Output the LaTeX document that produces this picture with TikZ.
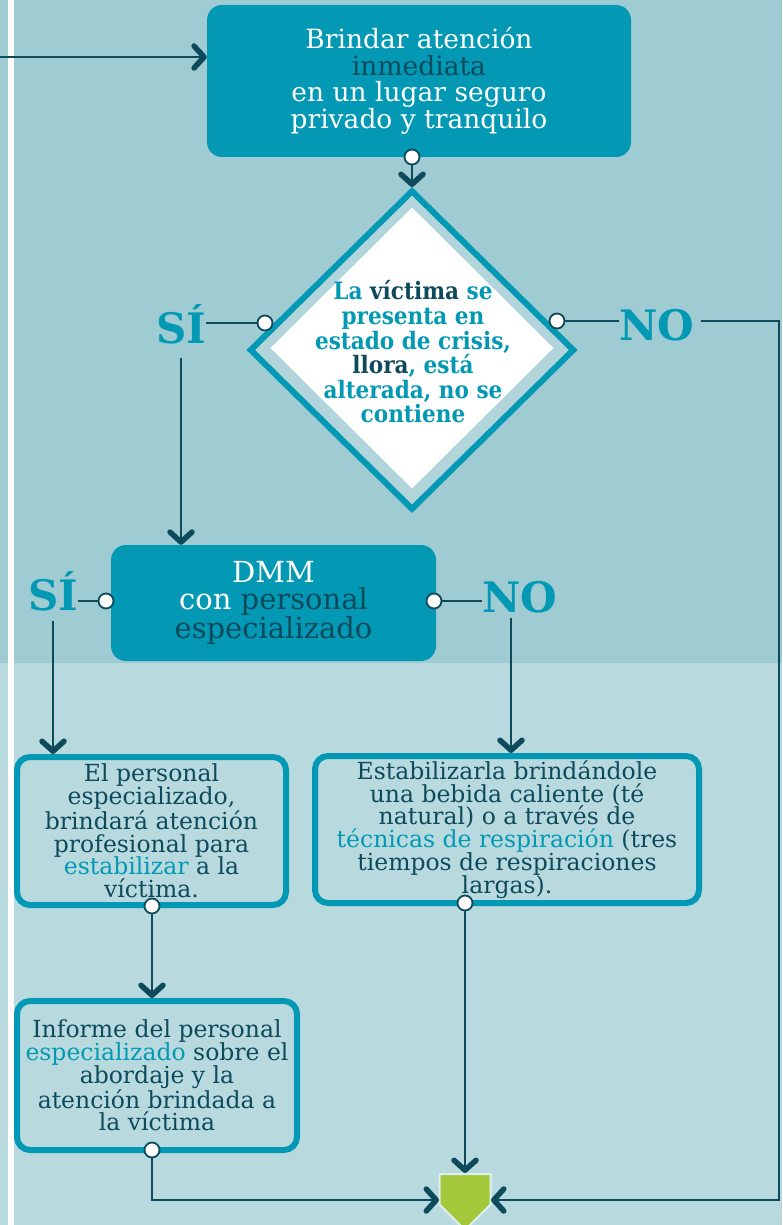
\documentclass[tikz,border=0pt]{standalone}
\usepackage{fontspec}
\setmainfont{DejaVu Serif}
\newfontfamily\condserif{DejaVu Serif Condensed}
\usetikzlibrary{arrows.meta,positioning,shapes.geometric,shapes.arrows}

\definecolor{bgtop}{HTML}{9FCBD3}
\definecolor{bgbot}{HTML}{B8DADF}
\definecolor{brandteal}{HTML}{0399B5}
\definecolor{ink}{HTML}{0D4A5C}
\definecolor{leaf}{HTML}{A3C93A}

\begin{document}
\begin{tikzpicture}[x=1pt,y=-1pt,
    % general settings
    align=center,
    % nodes
    base/.style={rectangle, rounded corners=15pt, inner sep=0pt},
    filled/.style={base, fill=brandteal, text=white, font=\fontsize{26.5}{26.5}\selectfont},
    outlined/.style={base, rounded corners=13pt, draw=brandteal, line width=6pt, fill=bgbot, text=ink, font=\fontsize{23.5}{22.8}\selectfont},
    joint/.style={circle, draw=ink, line width=1.8pt, fill=white, minimum size=15pt, inner sep=0pt},
    answer/.style={text=brandteal, inner sep=0pt, anchor=base, font=\fontsize{42}{42}\selectfont\bfseries},
    % arrows
    link/.style={ink, line width=1.8pt},
    flow/.style={link, -{Straight Barb[length=10pt, width=22pt, line width=5.5pt 0, round]}}
  ]

  % background bands
  \fill[bgtop] (0,0) rectangle (782,663);
  \fill[bgbot] (0,663) rectangle (782,1225);
  \fill[white] (8,0) rectangle (14,1225);
  \useasboundingbox (0,0) rectangle (782,1225);

  \node (brindar)   [filled, minimum width=424pt, minimum height=152pt] at (419,81)
                    {Brindar atención\\\textcolor{ink}{inmediata}\\en un lugar seguro\\privado y tranquilo};

  \node (crisis)    [diamond, draw=brandteal, line width=6pt, fill=bgtop!80!white,
                     minimum width=325pt, minimum height=320pt, inner sep=0pt] at (412,350) {};
  \node (crisisin)  [diamond, fill=white, minimum width=283pt, minimum height=281pt,
                     inner sep=0pt] at (412,348) {};
  \node (crisistxt) [text=brandteal, font=\condserif\bfseries\fontsize{24}{24.6}\selectfont] at (413,352)
                    {La \textcolor{ink}{víctima} se\\presenta en\\estado de crisis,\\\textcolor{ink}{llora}, está\\alterada, no se\\contiene};

  \node (j1)        [joint] at (412,157) {};
  \node (jl)        [joint] at (265,323) {};
  \node (jr)        [joint] at (557,321) {};
  \node (si1)       [answer] at (181,343) {SÍ};
  \node (no1)       [answer] at (657,340) {NO};

  \node (dmm)       [filled, minimum width=325pt, minimum height=116pt,
                     font=\fontsize{29}{27}\selectfont] at (273.5,603)
                    {DMM\\con \textcolor{ink}{personal}\\\textcolor{ink}{especializado}};

  \node (j2)        [joint] at (106,601) {};
  \node (j3)        [joint] at (434,601) {};
  \node (si2)       [answer] at (53,610) {SÍ};
  \node (no2)       [answer] at (520,612) {NO};

  \node (personal)  [outlined, minimum width=269pt, minimum height=148pt] at (151.5,831)
                    {El personal\\especializado,\\brindará atención\\profesional para\\
                     \textcolor{brandteal}{estabilizar} a la\\víctima.};

  \node (estab)     [outlined, minimum width=384pt, minimum height=147pt] at (507,829.5)
                    {Estabilizarla brindándole\\una bebida caliente (té\\natural) o a través de\\
                     \textcolor{brandteal}{técnicas de respiración} (tres\\tiempos de respiraciones\\largas).};

  \node (informe)   [outlined, minimum width=280pt, minimum height=149pt] at (157,1075.5)
                    {Informe del personal\\\textcolor{brandteal}{especializado} sobre el\\abordaje y la\\
                     atención brindada a\\la víctima};

  \node (j4)        [joint] at (152,906) {};
  \node (j5)        [joint] at (465,903) {};
  \node (j6)        [joint] at (152,1150) {};

  \node (fin)       [single arrow, single arrow head extend=0pt, shape border rotate=270,
                     fill=leaf, draw=white!55!bgbot, line width=2pt, minimum width=51pt,
                     minimum height=56pt, inner sep=0pt, anchor=tail] at (465,1173) {};

  \coordinate (entry) at (0,57);
  \coordinate (finL)  at (439,1200);
  \coordinate (finR)  at (491,1200);
  \coordinate (edge)  at (779,1200);

  \draw[flow] (entry) -- (entry -| brindar.west);
  \draw[flow] (j1) -- (crisis.north);

  \draw[link] (jl) -- (jl -| si1.east);
  \draw[link] (jr) -- (jr -| no1.west);
  \draw[flow] ([xshift=6pt]no1.east |- jr) -| (edge) -- (finR);
  \draw[flow] ([yshift=-14pt]si1.south) -- (si1.south |- dmm.north);

  \draw[link] (j2) -- (j2 -| si2.east);
  \draw[link] (j3) -- (j3 -| no2.west);
  \draw[flow] ([yshift=-10pt]si2.south) -- (si2.south |- personal.north);
  \draw[flow] ([xshift=-9pt,yshift=-5pt]no2.south) -- ([xshift=-9pt]no2.south |- estab.north);

  \draw[flow] (j4) -- (j4 |- informe.north);
  \draw[flow] (j5) -- (fin.tail);
  \draw[flow] (j6) |- (finL);
\end{tikzpicture}
\end{document}
